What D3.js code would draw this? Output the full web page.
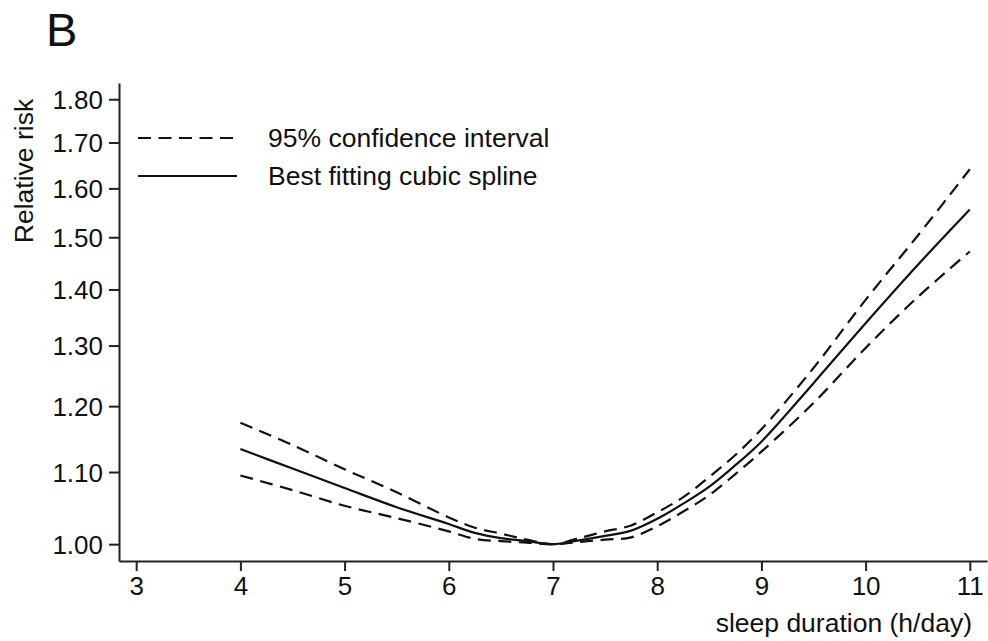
<!DOCTYPE html>
<html>
<head>
<meta charset="utf-8">
<script src="https://cdn.jsdelivr.net/npm/d3@7"></script>
<style>
  body { margin: 0; background: #fff; }
  text { font-family: Arial, "Liberation Sans", sans-serif; fill: #111; }
</style>
</head>
<body>
<div id="chart"></div>
<script>
const hours = [4, 4.5, 5, 5.5, 6, 6.25, 6.5, 6.75, 7, 7.25, 7.5, 7.75, 8, 8.25, 8.5, 8.75, 9, 9.5, 10, 10.5, 11];
const spline = [1.134, 1.105, 1.077, 1.050, 1.027, 1.015, 1.008, 1.004, 1.000, 1.005, 1.011, 1.018, 1.034, 1.055, 1.079, 1.110, 1.145, 1.237, 1.339, 1.446, 1.556];
const upper  = [1.174, 1.140, 1.104, 1.071, 1.036, 1.022, 1.014, 1.006, 1.000, 1.008, 1.017, 1.025, 1.043, 1.064, 1.093, 1.125, 1.164, 1.262, 1.381, 1.503, 1.641];
const lower  = [1.095, 1.074, 1.052, 1.035, 1.017, 1.007, 1.004, 1.002, 1.000, 1.003, 1.006, 1.009, 1.024, 1.044, 1.067, 1.097, 1.130, 1.205, 1.296, 1.386, 1.472];
const xTicks = [3, 4, 5, 6, 7, 8, 9, 10, 11];
const yTicks = [1.0, 1.1, 1.2, 1.3, 1.4, 1.5, 1.6, 1.7, 1.8];
const legendLabels = ["95% confidence interval", "Best fitting cubic spline"];

const width = 988, height = 641;
const plotLeft = 119, plotRight = 987, plotTop = 83, plotBottom = 561;

const svg = d3.select("#chart")
  .append("svg")
  .attr("width", width)
  .attr("height", height);

const x = d3.scaleLinear().domain([2.835, 11.165]).range([plotLeft, plotRight]);
const y = d3.scaleLog().domain([0.978, 1.839]).range([plotBottom, plotTop]);

// Panel letter
svg.append("text")
  .attr("x", 46)
  .attr("y", 46)
  .text("B")
  .style("font-size", "47px");

// Axes
const xAxis = svg.append("g")
  .attr("transform", `translate(0, ${plotBottom})`)
  .call(d3.axisBottom(x).tickValues(xTicks).tickSize(10).tickSizeOuter(0).tickPadding(6).tickFormat(d3.format("d")));

const yAxis = svg.append("g")
  .attr("transform", `translate(${plotLeft}, 0)`)
  .call(d3.axisLeft(y).tickValues(yTicks).tickSize(10).tickSizeOuter(0).tickPadding(6).tickFormat(d3.format(".2f")));

[xAxis, yAxis].forEach(g => {
  g.select(".domain").style("stroke", "#222").style("stroke-width", 2);
  g.selectAll(".tick line").style("stroke", "#222").style("stroke-width", 2);
  g.selectAll(".tick text").style("fill", "#111").style("font-family", "Arial, 'Liberation Sans', sans-serif");
});
xAxis.selectAll(".tick text").style("font-size", "26px");
yAxis.selectAll(".tick text").style("font-size", "26px").attr("dy", "0.36em");

// Axis titles
svg.append("text")
  .attr("x", 972)
  .attr("y", 632)
  .attr("text-anchor", "end")
  .style("font-size", "26.5px")
  .text("sleep duration (h/day)");

svg.append("text")
  .attr("transform", "translate(33, 171) rotate(-90)")
  .attr("text-anchor", "middle")
  .style("font-size", "26.5px")
  .text("Relative risk");

// Lines
const line = d3.line()
  .x(d => x(d[0]))
  .y(d => y(d[1]))
  .curve(d3.curveCatmullRom.alpha(0.5));

const dash = "13,7.5";

[upper, lower].forEach(series => {
  svg.append("path")
    .datum(hours.map((h, i) => [h, series[i]]))
    .attr("d", line)
    .style("fill", "none")
    .style("stroke", "#111")
    .style("stroke-width", 2.2)
    .style("stroke-dasharray", dash);
});

svg.append("path")
  .datum(hours.map((h, i) => [h, spline[i]]))
  .attr("d", line)
  .style("fill", "none")
  .style("stroke", "#111")
  .style("stroke-width", 2.2);

// Legend
const legendY = [138, 176];
legendLabels.forEach((label, i) => {
  svg.append("line")
    .attr("x1", 138)
    .attr("x2", 237)
    .attr("y1", legendY[i])
    .attr("y2", legendY[i])
    .style("stroke", "#111")
    .style("stroke-width", 2.2)
    .style("stroke-dasharray", i === 0 ? dash : null);

  svg.append("text")
    .attr("x", 268)
    .attr("y", legendY[i] + 9)
    .style("font-size", "26.5px")
    .text(label);
});
</script>
</body>
</html>
